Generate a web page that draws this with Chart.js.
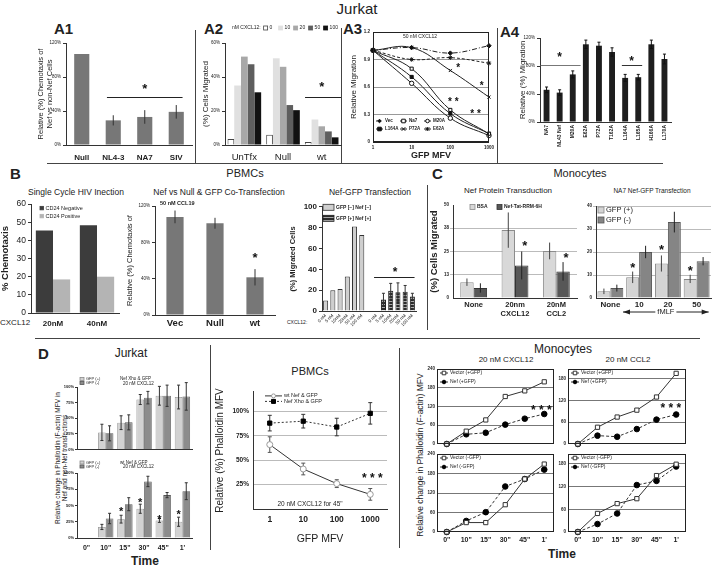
<!DOCTYPE html>
<html>
<head>
<meta charset="utf-8">
<script src="https://cdn.jsdelivr.net/npm/chart.js@4.4.0/dist/chart.umd.min.js"></script>
<style>
body { margin: 0; width: 713px; height: 566px; position: relative; overflow: hidden; background: #fff;
       font-family: "Liberation Sans", Arial, sans-serif; color: #222; }
.t { position: absolute; white-space: nowrap; line-height: 1; }
.c { transform: translateX(-50%); }
.b { font-weight: bold; }
.n { font-family: "Liberation Sans Narrow", "Arial Narrow", "Liberation Sans", sans-serif; }
.r { transform: translate(-50%, -50%) rotate(-90deg); text-align: center; line-height: 1.15; }
.ln { position: absolute; background: #444; }
</style>
</head>
<body>
<div class="t n c" style="left:357px;top:1px;font-size:15px">Jurkat</div>
<div class="t b" style="left:54px;top:21px;font-size:15px">A1</div>
<div class="t b" style="left:204px;top:21px;font-size:15px">A2</div>
<div class="t b" style="left:343px;top:21px;font-size:15px">A3</div>
<div class="t b" style="left:500px;top:24px;font-size:15px">A4</div>

<div class="ln" style="left:47px;top:163px;width:616px;height:1px"></div>
<div class="ln" style="left:195px;top:30px;width:1px;height:133px"></div>
<div class="ln" style="left:341px;top:28px;width:1px;height:135px"></div>
<div class="ln" style="left:497px;top:28px;width:1px;height:135px"></div>
<div class="ln" style="left:427px;top:185px;width:1px;height:145px"></div>
<div class="ln" style="left:35px;top:338px;width:665px;height:1px"></div>
<div class="ln" style="left:210px;top:345px;width:1px;height:205px"></div>
<div class="ln" style="left:399px;top:348px;width:1px;height:200px"></div>

<div class="t b" style="left:10px;top:166px;font-size:15px">B</div>
<div class="t n c" style="left:245px;top:168px;font-size:11px">PBMCs</div>
<div class="t b" style="left:432px;top:166px;font-size:15px">C</div>
<div class="t n c" style="left:580px;top:168px;font-size:11px">Monocytes</div>
<div class="t c" style="left:76px;top:188px;font-size:8.5px">Single Cycle HIV Inection</div>
<div class="t c" style="left:219px;top:188px;font-size:8.5px">Nef vs Null &amp; GFP Co-Transfection</div>
<div class="t c" style="left:370px;top:188px;font-size:8.5px">Nef-GFP Transfection</div>
<div class="t" style="left:0px;top:319px;font-size:8px">CXCL12</div>
<div class="t" style="left:287px;top:320px;font-size:5px">CXCL12:</div>
<div class="t n c" style="left:508px;top:187px;font-size:8px">Nef Protein Transduction</div>
<div class="t n c" style="left:652px;top:188px;font-size:6.5px">NA7 Nef-GFP Transfection</div>

<div class="t b" style="left:38px;top:346px;font-size:15px">D</div>
<div class="t n c" style="left:131px;top:347px;font-size:12px">Jurkat</div>
<div class="t r" style="left:61px;top:458px;font-size:6.5px">Relative change in Phalloidin (F-actin) MFV in<br>Nef and non-Nef transfections</div>
<div class="t b c" style="left:145px;top:555px;font-size:12px">Time</div>
<div class="t n c" style="left:310px;top:366px;font-size:11px">PBMCs</div>
<div class="t n c" style="left:563px;top:343px;font-size:12px">Monocytes</div>
<div class="t n c" style="left:506px;top:356px;font-size:8px">20 nM CXCL12</div>
<div class="t n c" style="left:628px;top:356px;font-size:8px">20 nM CCL2</div>
<div class="t r n" style="left:421px;top:455px;font-size:8.5px">Relative change in Phalloidin (F-actin) MFV</div>
<div class="t b c" style="left:562px;top:548px;font-size:12px">Time</div>

<script>
// ---------- data ----------
// A1 Jurkat chemotaxis
const a1Cats = ['Null', 'NL4-3', 'NA7', 'SIV'];
const a1Vals = [107, 29, 33, 39];
const a1Errs = [0, 6, 8, 8];

// A2 cells migrated per CXCL12 dose
const a2Cats = ['UnTfx', 'Null', 'wt'];
const a2Doses = ['0', '10', '20', '50', '100'];
const a2Dose0 = [3.5, 6, 1.8];
const a2Dose10 = [35, 51, 15];
const a2Dose20 = [52, 46, 11];
const a2Dose50 = [47.5, 23.5, 8];
const a2Dose100 = [31, 20.5, 4.5];

// A3 relative migration vs GFP MFV
const a3X = [1, 10, 100, 1000];
const a3Vec = [1.0, 1.03, 0.97, 1.05];
const a3Na7 = [1.0, 0.80, 0.35, 0.09];
const a3M20A = [1.0, 0.64, 0.26, 0.07];
const a3L164A = [1.0, 0.71, 0.31, 0.09];
const a3P72A = [1.0, 1.03, 0.78, 0.49];
const a3E62A = [1.0, 0.90, 0.92, 0.86];

// A4 Nef mutants
const a4Cats = ['NA7', 'NL43 Nef', 'M20A', 'E62A', 'P72A', 'T162A', 'L164A', 'L165A', 'H166A', 'L170A'];
const a4Vals = [46, 42, 68, 111, 109, 100, 63, 64, 111, 90];
const a4Errs = [4, 4, 5, 6, 5, 6, 5, 4, 6, 7];

// B1 single cycle infection
const b1Cats = ['20nM', '40nM'];
const b1Neg = [45.5, 48.3];
const b1Pos = [18.5, 20];

// B2 co-transfection
const b2Cats = ['Vec', 'Null', 'wt'];
const b2Vals = [108, 101, 41.5];
const b2Errs = [7, 6, 9];

// B3 Nef-GFP transfection
const b3Doses = ['0 nM', '5 nM', '10nM', '20nM', '50 nM', '100 nM'];
const b3Neg = [10, 20, 21, 33, 81, 73];
const b3Pos = [0.5, 11, 19.5, 18, 18.5, 14];
const b3PosErr = [0, 6, 7, 9, 6, 3];

// C1 Nef protein transduction
const c1Cats = [['None'], ['20nm', 'CXCL12'], ['20nM', 'CCL2']];
const c1Bsa = [8.5, 36.5, 25.3];
const c1BsaErr = [2, 9.5, 4.5];
const c1Nef = [5.4, 17.5, 14.3];
const c1NefErr = [2.5, 7.5, 5];

// C2 NA7 Nef-GFP transfection
const c2Cats = ['None', '10', '20', '50'];
const c2Pos = [2.9, 9, 15, 8.3];
const c2PosErr = [1.2, 2.5, 3.5, 1.8];
const c2Neg = [4.3, 20, 33, 16];
const c2NegErr = [1.5, 2.7, 4.5, 1.8];

// D Jurkat phalloidin
const dTimes = ['0"', '10"', '15"', '30"', '45"', "1'"];
const dXhoPos = [null, 27.5, 43, 80, 86, 84];
const dXhoPosErr = [0, 13, 11, 8, 15, 19];
const dXhoNeg = [null, 26, 43.5, 83, 86, 85];
const dXhoNegErr = [0, 12, 12, 10, 17, 22];
const dWtPos = [null, 17, 29, 45, 27, 25];
const dWtPosErr = [0, 4, 6, 7, 3, 7];
const dWtNeg = [null, 30, 52, 87, 66, 72];
const dWtNegErr = [0, 8, 10, 8, 4, 13];

// D PBMCs
const pbX = ['1', '10', '100', '1000'];
const pbWt = [66, 41, 26, 15];
const pbWtErr = [8, 6, 4, 6];
const pbXho = [88, 90, 84, 98];
const pbXhoErr = [8, 7, 9, 11];

// D Monocytes
const mCxVecP = [0, 41, 77, 152, 170, 199];
const mCxNefP = [0, 31, 36, 62, 81, 96];
const mClVecP = [0, 46, 74, 93, 129, 194];
const mClNefP = [0, 23, 20, 41, 67, 81];
const mCxVecN = [0, 29, 29, 84, 163, 209];
const mCxNefN = [0, 34, 61, 140, 163, 192];
const mClVecN = [0, 49, 75, 88, 149, 179];
const mClNefN = [0, 21, 49, 124, 135, 173];

// ---------- setup ----------
const FAM = '"Liberation Sans", Arial, sans-serif';
Chart.defaults.font.family = FAM;
Chart.defaults.color = '#222';
Chart.defaults.animation = false;
Chart.defaults.events = [];
Chart.defaults.plugins.legend.display = false;
Chart.defaults.plugins.tooltip.enabled = false;

const f = (size, b) => ({ size: size, weight: b ? 'bold' : 'normal', family: FAM });

function marker(ctx, st, x, y, r, fill, stroke) {
  ctx.save();
  ctx.fillStyle = fill; ctx.strokeStyle = stroke; ctx.lineWidth = 1;
  ctx.beginPath();
  if (st === 'rect') ctx.rect(x - r, y - r, 2 * r, 2 * r);
  else if (st === 'rectRot') { ctx.moveTo(x, y - r); ctx.lineTo(x + r, y); ctx.lineTo(x, y + r); ctx.lineTo(x - r, y); ctx.closePath(); }
  else if (st === 'crossRot' || st === 'star') {
    ctx.moveTo(x - r, y - r); ctx.lineTo(x + r, y + r); ctx.moveTo(x + r, y - r); ctx.lineTo(x - r, y + r);
    if (st === 'star') { ctx.moveTo(x, y - r); ctx.lineTo(x, y + r); ctx.moveTo(x - r, y); ctx.lineTo(x + r, y); }
  } else ctx.arc(x, y, r, 0, Math.PI * 2);
  if (st !== 'crossRot' && st !== 'star') ctx.fill();
  ctx.stroke();
  ctx.restore();
}

// error bars, taken from the dataset's errs array through the y scale
function drawErrs(ch) {
  const ctx = ch.ctx, ys = ch.scales.y;
  ch.data.datasets.forEach((ds, di) => {
    if (!ds.errs) return;
    ch.getDatasetMeta(di).data.forEach((el, i) => {
      const v = ds.data[i], e = ds.errs[i];
      if (v == null || !e) return;
      const y1 = ys.getPixelForValue(v - e), y2 = ys.getPixelForValue(v + e), c = ds.cap || 0;
      ctx.save();
      ctx.strokeStyle = ds.errColor || '#333'; ctx.lineWidth = 1;
      ctx.beginPath();
      ctx.moveTo(el.x, y1); ctx.lineTo(el.x, y2);
      if (c) { ctx.moveTo(el.x - c, y2); ctx.lineTo(el.x + c, y2); ctx.moveTo(el.x - c, y1); ctx.lineTo(el.x + c, y1); }
      ctx.stroke();
      ctx.restore();
    });
  });
}
const errPlugin = {
  id: 'errs',
  beforeDatasetsDraw(ch) { if (ch.config.type === 'line') drawErrs(ch); },
  afterDatasetsDraw(ch) { if (ch.config.type !== 'line') drawErrs(ch); }
};

// stars, significance lines, small in-plot texts, arrows
const notes = {
  id: 'notes',
  afterDatasetsDraw(ch, args, o) {
    const ctx = ch.ctx, xs = ch.scales.x, ys = ch.scales.y, a = ch.chartArea;
    const px = n => n.ds != null ? ch.getDatasetMeta(n.ds).data[n.i].x : xs.getPixelForValue(n.x);
    ctx.save();
    (o.lines || []).forEach(l => {
      const y = Math.round(ys.getPixelForValue(l.y)) + 0.5;
      ctx.strokeStyle = l.c || '#222'; ctx.lineWidth = l.w || 1;
      ctx.beginPath(); ctx.moveTo(xs.getPixelForValue(l.x1), y); ctx.lineTo(xs.getPixelForValue(l.x2), y); ctx.stroke();
    });
    (o.stars || []).forEach(s => {
      const sz = s.s || 12;
      ctx.fillStyle = '#111'; ctx.font = 'bold ' + sz + 'px ' + FAM;
      ctx.textAlign = 'center'; ctx.textBaseline = 'middle';
      ctx.fillText(s.t || '*', px(s) + (s.dx || 0), ys.getPixelForValue(s.y) + sz * 0.27);
    });
    (o.texts || []).forEach(t => {
      ctx.fillStyle = '#222'; ctx.font = (t.b ? 'bold ' : '') + t.s + 'px ' + FAM;
      ctx.textAlign = t.al || 'left'; ctx.textBaseline = 'middle';
      ctx.fillText(t.t, a.left + t.ax, a.top + t.ay);
    });
    if (o.arrow) {
      const w = o.arrow, y = a.bottom + w.dy, x1 = xs.getPixelForValue(w.x1), x2 = xs.getPixelForValue(w.x2);
      ctx.strokeStyle = '#222'; ctx.fillStyle = '#222'; ctx.lineWidth = 1;
      ctx.beginPath(); ctx.moveTo(x1, y); ctx.lineTo(x2, y); ctx.stroke();
      ctx.beginPath(); ctx.moveTo(x1, y); ctx.lineTo(x1 + 7, y - 2.5); ctx.lineTo(x1 + 7, y + 2.5); ctx.fill();
      ctx.beginPath(); ctx.moveTo(x2, y); ctx.lineTo(x2 - 7, y - 2.5); ctx.lineTo(x2 - 7, y + 2.5); ctx.fill();
      ctx.font = w.s + 'px ' + FAM; ctx.textAlign = 'center'; ctx.textBaseline = 'middle';
      const tw = ctx.measureText(w.t).width, xm = (x1 + x2) / 2;
      ctx.fillStyle = '#fff'; ctx.fillRect(xm - tw / 2 - 2, y - 4, tw + 4, 8);
      ctx.fillStyle = '#222'; ctx.fillText(w.t, xm, y);
    }
    ctx.restore();
  }
};

// small legends placed relative to the plot area
const keys = {
  id: 'keys',
  afterDraw(ch, args, o) {
    if (!o.on) return;
    const ctx = ch.ctx, a = ch.chartArea;
    let x0 = a.left + o.x;
    const y0 = a.top + o.y;
    ctx.save();
    ctx.font = (o.b ? 'bold ' : '') + o.s + 'px ' + FAM;
    ctx.textBaseline = 'middle'; ctx.textAlign = 'left'; ctx.fillStyle = '#222';
    if (o.prefix) { ctx.fillText(o.prefix, x0, y0); x0 += ctx.measureText(o.prefix).width + 3; }
    ch.data.datasets.forEach((ds, k) => {
      const x = x0 + (k % o.cols) * (o.colW || 0);
      const y = y0 + Math.floor(k / o.cols) * (o.rowH || 0);
      let tx;
      if (o.sym === 'line') {
        ctx.strokeStyle = ds.borderColor; ctx.lineWidth = 1; ctx.setLineDash(ds.borderDash || []);
        ctx.beginPath(); ctx.moveTo(x, y); ctx.lineTo(x + o.len, y); ctx.stroke(); ctx.setLineDash([]);
        marker(ctx, ds.pointStyle, x + o.len / 2, y, o.pr || 2, ds.pointBackgroundColor, ds.pointBorderColor);
        tx = x + o.len + 2;
      } else {
        ctx.fillStyle = ds.backgroundColor; ctx.fillRect(x, y - o.bh / 2, o.bw, o.bh);
        ctx.strokeStyle = ds.borderColor || '#444'; ctx.lineWidth = 0.8; ctx.strokeRect(x, y - o.bh / 2, o.bw, o.bh);
        tx = x + o.bw + 2;
      }
      ctx.fillStyle = '#222';
      ctx.fillText(ds.label, tx, y);
    });
    ctx.restore();
  }
};

const frame = {
  id: 'frame',
  afterDatasetsDraw(ch, args, o) {
    if (!o.on) return;
    const a = ch.chartArea, ctx = ch.ctx;
    ctx.save(); ctx.strokeStyle = o.c || '#222'; ctx.lineWidth = 1;
    ctx.strokeRect(Math.round(a.left) + 0.5, Math.round(a.top) + 0.5, Math.round(a.width) - 1, Math.round(a.height) - 1);
    ctx.restore();
  }
};
Chart.register(errPlugin, notes, keys, frame);

// canvas placed so that the plot area lands on rect p (x,y,w,h); yw / xh = axis band sizes
function chart(p, cfg) {
  const pt = p.pt == null ? 6 : p.pt, pr = p.pr == null ? 4 : p.pr;
  const cv = document.createElement('canvas');
  cv.width = p.w + p.yw + pr;
  cv.height = p.h + pt + p.xh;
  cv.style.cssText = 'position:absolute;left:' + (p.x - p.yw) + 'px;top:' + (p.y - pt) + 'px;width:' +
    cv.width + 'px;height:' + cv.height + 'px';
  document.body.appendChild(cv);
  const o = cfg.options;
  o.responsive = false;
  o.layout = { padding: { top: pt, right: pr, left: 0, bottom: 0 } };
  o.scales.x.afterFit = s => { s.height = p.xh; };
  o.scales.y.afterFit = s => { s.width = p.yw; };
  return new Chart(cv, cfg);
}

const axisY = (min, max, step, font, fmt, title) => ({
  min: min, max: max, border: { color: '#333' },
  grid: { drawOnChartArea: false, tickLength: 3, color: '#333' },
  ticks: { stepSize: step, font: font, padding: 2, callback: fmt || (v => v) },
  title: title ? { display: true, text: title.t, font: title.f, padding: 0 } : { display: false }
});
const axisX = (font, pad, extra) => ({ grid: { display: false, drawTicks: false }, border: { color: '#333' },
  ticks: Object.assign({ font: font, padding: pad, autoSkip: false, maxRotation: 0 }, extra || {}) });
const pct = v => v + '%';

// ---------- A1 ----------
chart({ x: 66, y: 43, w: 126, h: 102, yw: 30, xh: 20 }, {
  type: 'bar',
  data: { labels: a1Cats, datasets: [{ data: a1Vals, errs: a1Errs, backgroundColor: '#777', errColor: '#333' }] },
  options: {
    datasets: { bar: { categoryPercentage: 1, barPercentage: 0.48 } },
    scales: {
      x: axisX(f(8, 1), 8),
      y: axisY(0, 120, 40, f(4.5), pct, { t: ['Relative (%) Chemotaxis of', 'Nef vs non-Nef Cells'], f: f(7.5) })
    },
    plugins: { notes: { lines: [{ x1: 0.8, x2: 3.2, y: 57 }], stars: [{ x: 2, y: 70, s: 13 }] } }
  }
});

// ---------- A2 ----------
const a2Fill = ['#ffffff', '#e0e0e0', '#a8a8a8', '#5e5e5e', '#111111'];
chart({ x: 225, y: 43, w: 116, h: 102, yw: 24, xh: 20, pt: 20, pr: 2 }, {
  type: 'bar',
  data: {
    labels: a2Cats,
    datasets: [a2Dose0, a2Dose10, a2Dose20, a2Dose50, a2Dose100].map((d, k) => ({
      label: a2Doses[k], data: d, backgroundColor: a2Fill[k],
      borderColor: k === 0 ? '#444' : a2Fill[k], borderWidth: k === 0 ? 1 : 0
    }))
  },
  options: {
    datasets: { bar: { categoryPercentage: 0.87, barPercentage: 1 } },
    scales: {
      x: axisX(f(9.5), 7),
      y: axisY(0, 60, 20, f(4.5), pct, { t: '(%) Cells Migrated', f: f(8) })
    },
    plugins: {
      keys: { on: 1, x: 7, y: -15, cols: 5, colW: 15, s: 5, bw: 4, bh: 4, prefix: 'nM CXCL12:' },
      notes: { lines: [{ x1: 1.57, x2: 2.5, y: 28 }], stars: [{ x: 2, y: 36, s: 13 }] }
    }
  }
});

// ---------- A3 ----------
const a3Line = (label, vals, st, fill, dash) => ({
  label: label, data: a3X.map((x, i) => ({ x: x, y: vals[i] })),
  borderColor: '#222', borderWidth: 1, borderDash: dash, tension: 0.4, clip: false,
  pointStyle: st, pointRadius: 2.2, pointBackgroundColor: fill, pointBorderColor: '#111'
});
chart({ x: 373, y: 32, w: 118, h: 110, yw: 24, xh: 19, pr: 6 }, {
  type: 'line',
  data: {
    datasets: [
      a3Line('Vec', a3Vec, 'rectRot', '#111', [5, 2, 1, 2]),
      a3Line('Na7', a3Na7, 'rect', '#fff', []),
      a3Line('M20A', a3M20A, 'circle', '#fff', []),
      a3Line('L164A', a3L164A, 'rect', '#111', []),
      a3Line('P72A', a3P72A, 'crossRot', '#111', []),
      a3Line('E62A', a3E62A, 'star', '#111', [3, 2])
    ]
  },
  options: {
    scales: {
      x: {
        type: 'logarithmic', min: 1, max: 1000, grid: { display: false, drawTicks: false }, border: { color: '#222' },
        afterBuildTicks: s => { s.ticks = a3X.map(v => ({ value: v })); },
        ticks: { font: f(4.5, 1), padding: 3, callback: v => String(v), maxRotation: 0 },
        title: { display: true, text: 'GFP MFV', font: f(9, 1), padding: 0 }
      },
      y: {
        min: 0, max: 1.2, border: { color: '#222' },
        grid: { color: '#999', drawTicks: false },
        ticks: { stepSize: 0.3, font: f(4.5, 1), padding: 3, callback: v => (v === 0 ? '0' : v.toFixed(1)) },
        title: { display: true, text: 'Relative Migration', font: f(8), padding: 0 }
      }
    },
    plugins: {
      frame: { on: 1 },
      keys: { on: 1, sym: 'line', x: 3, y: 89, cols: 3, colW: 24, rowH: 8, s: 4.5, len: 7, pr: 1.8, b: 1 },
      notes: {
        stars: [{ x: 160, y: 0.83, s: 10 }, { x: 650, y: 0.64, s: 10 }, { x: 120, y: 0.46, t: '* *', s: 10 }, { x: 450, y: 0.33, t: '* *', s: 10 }],
        texts: [{ t: '50 nM CXCL12', ax: 47, ay: 5, s: 5, al: 'center' }]
      }
    }
  }
});

// ---------- A4 ----------
chart({ x: 540, y: 38, w: 131, h: 84, yw: 22, xh: 43, pr: 3 }, {
  type: 'bar',
  data: { labels: a4Cats, datasets: [{ data: a4Vals, errs: a4Errs, cap: 1.5, backgroundColor: '#1e1e1e', errColor: '#111' }] },
  options: {
    datasets: { bar: { categoryPercentage: 1, barPercentage: 0.45 } },
    scales: {
      x: axisX(f(5, 1), 3, { minRotation: 90, maxRotation: 90 }),
      y: axisY(0, 120, 40, f(4.5), pct, { t: 'Relative (%) Migration', f: f(8) })
    },
    plugins: {
      notes: {
        lines: [{ x1: -0.45, x2: 2.6, y: 82, c: '#777' }, { x1: 5.75, x2: 7.3, y: 81, c: '#333' }],
        stars: [{ x: 1, y: 96, s: 12 }, { x: 6.5, y: 91, s: 12 }]
      }
    }
  }
});

// ---------- B1 ----------
chart({ x: 31, y: 203, w: 88, h: 110, yw: 31, xh: 17 }, {
  type: 'bar',
  data: {
    labels: b1Cats,
    datasets: [
      { label: 'CD24 Negative', data: b1Neg, backgroundColor: '#3c3c3c', borderColor: '#3c3c3c' },
      { label: 'CD24 Positive', data: b1Pos, backgroundColor: '#b4b4b4', borderColor: '#b4b4b4' }
    ]
  },
  options: {
    datasets: { bar: { categoryPercentage: 0.78, barPercentage: 1 } },
    scales: {
      x: axisX(f(8, 1), 6),
      y: axisY(0, 60, 10, f(8.5), null, { t: '% Chemotaxis', f: f(9.5, 1) })
    },
    plugins: { keys: { on: 1, x: 9, y: 4, cols: 1, rowH: 8, s: 5.5, bw: 3.5, bh: 3.5 } }
  }
});

// ---------- B2 ----------
chart({ x: 155, y: 206, w: 120, h: 109, yw: 30, xh: 17 }, {
  type: 'bar',
  data: { labels: b2Cats, datasets: [{ data: b2Vals, errs: b2Errs, backgroundColor: '#777', errColor: '#333' }] },
  options: {
    datasets: { bar: { categoryPercentage: 1, barPercentage: 0.43 } },
    scales: {
      x: axisX(f(9.5, 1), 3),
      y: axisY(0, 120, 40, f(4.5), pct, { t: 'Relative (%) Chemotaxis of', f: f(7.5) })
    },
    plugins: {
      notes: {
        stars: [{ x: 2, y: 66, s: 13 }],
        texts: [{ t: '50 nM CCL19', ax: 5, ay: -3, s: 5.5, b: 1 }]
      }
    }
  }
});

// ---------- B3 ----------
const pc = document.createElement('canvas');
pc.width = 4; pc.height = 3;
const pcx = pc.getContext('2d');
pcx.fillStyle = '#2a2a2a'; pcx.fillRect(0, 0, 4, 3);
pcx.fillStyle = '#a8a8a8'; pcx.fillRect(0, 2, 4, 1);
const stripes = pcx.createPattern(pc, 'repeat');
const b3Gap = b3Doses.map(() => null);
chart({ x: 322, y: 206, w: 94, h: 105, yw: 34, xh: 20, pr: 4 }, {
  type: 'bar',
  data: {
    labels: b3Doses.concat([''], b3Doses),
    datasets: [
      { label: 'GFP [\u2212] Nef [\u2212]', data: b3Neg.concat([null], b3Gap), backgroundColor: '#cfcfcf',
        borderColor: '#333', borderWidth: 1, grouped: false },
      { label: 'GFP [+] Nef [+]', data: b3Gap.concat([null], b3Pos), errs: b3Gap.concat([null], b3PosErr), cap: 1.5,
        backgroundColor: stripes, borderColor: '#222', borderWidth: 1, grouped: false }
    ]
  },
  options: {
    datasets: { bar: { categoryPercentage: 1, barPercentage: 0.7 } },
    scales: {
      x: axisX(f(4.5), 2, { minRotation: 45, maxRotation: 45 }),
      y: axisY(0, 100, 20, f(8, 1), null, { t: '(%) Migrated Cells', f: f(7.5, 1) })
    },
    plugins: {
      keys: { on: 1, x: 1, y: 0.5, cols: 1, rowH: 11, s: 5, b: 1, bw: 11, bh: 6 },
      notes: { lines: [{ x1: 6.7, x2: 12.3, y: 33 }], stars: [{ x: 9.6, y: 40, s: 12 }] }
    }
  }
});

// ---------- C1 ----------
chart({ x: 453, y: 205, w: 124, h: 93, yw: 24, xh: 28 }, {
  type: 'bar',
  data: {
    labels: c1Cats,
    datasets: [
      { label: 'BSA', data: c1Bsa, errs: c1BsaErr, backgroundColor: '#d8d8d8', borderColor: '#8c8c8c', borderWidth: 1, errColor: '#444' },
      { label: 'Nef-Tat-RRM-6H', data: c1Nef, errs: c1NefErr, backgroundColor: '#575757', borderColor: '#333', borderWidth: 1, errColor: '#222' }
    ]
  },
  options: {
    datasets: { bar: { categoryPercentage: 0.65, barPercentage: 1 } },
    scales: {
      x: axisX(f(7.5, 1), 2),
      y: {
        min: 0, max: 50, border: { color: '#333' },
        afterBuildTicks: s => { s.ticks = [0, 12.5, 25, 37.5, 50].map(v => ({ value: v })); },
        grid: { color: c => (c.tick && c.tick.value > 0 && c.tick.value < 50 ? '#bbb' : 'rgba(0,0,0,0)'), tickLength: 3 },
        ticks: { font: f(4.5, 1), padding: 1, callback: v => Math.round(v) },
        title: { display: true, text: '(%) Cells Migrated', font: f(9.5, 1), padding: 0 }
      }
    },
    plugins: {
      keys: { on: 1, x: 17, y: 2, cols: 2, colW: 27, s: 5, b: 1, bw: 5, bh: 5 },
      notes: { stars: [{ ds: 1, i: 1, y: 29.5, s: 13, dx: 3 }, { ds: 1, i: 2, y: 23, s: 13, dx: 3 }] }
    }
  }
});

// ---------- C2 ----------
chart({ x: 596, y: 206, w: 115, h: 92, yw: 14, xh: 28, pr: 2 }, {
  type: 'bar',
  data: {
    labels: c2Cats,
    datasets: [
      { label: 'GFP (+)', data: c2Pos, errs: c2PosErr, backgroundColor: '#d4d4d4', borderColor: '#888', borderWidth: 1, errColor: '#444' },
      { label: 'GFP (-)', data: c2Neg, errs: c2NegErr, backgroundColor: '#858585', borderColor: '#555', borderWidth: 1, errColor: '#222' }
    ]
  },
  options: {
    datasets: { bar: { categoryPercentage: 0.9, barPercentage: 1 } },
    scales: {
      x: axisX(f(8, 1), 2),
      y: {
        min: 0, max: 40, border: { color: '#333' },
        grid: { color: c => (c.tick && c.tick.value > 0 ? '#bbb' : 'rgba(0,0,0,0)'), tickLength: 3 },
        ticks: { stepSize: 10, font: f(4.5, 1), padding: 1 }
      }
    },
    plugins: {
      keys: { on: 1, x: 2, y: 4, cols: 1, rowH: 10, s: 7.5, bw: 6, bh: 6 },
      notes: {
        stars: [{ ds: 0, i: 1, y: 14.3, s: 13 }, { ds: 0, i: 2, y: 22.3, s: 13 }, { ds: 0, i: 3, y: 12.9, s: 13 }],
        arrow: { x1: 0.44, x2: 3.42, dy: 14, t: 'fMLF', s: 7.5 }
      }
    }
  }
});

// ---------- D Jurkat ----------
function dj(p, pos, neg, posErr, negErr, note1, note2, ky, showX, stars) {
  return chart(p, {
    type: 'bar',
    data: {
      labels: dTimes,
      datasets: [
        { label: 'GFP (+)', data: pos, errs: posErr, cap: 1.5, backgroundColor: '#d2d2d2', borderColor: '#8a8a8a', borderWidth: 0.8 },
        { label: 'GFP (-)', data: neg, errs: negErr, cap: 1.5, backgroundColor: '#8c8c8c', borderColor: '#555', borderWidth: 0.8 }
      ]
    },
    options: {
      datasets: { bar: { categoryPercentage: 0.8, barPercentage: 1 } },
      scales: {
        x: axisX(f(7, 1), 6, { display: showX }),
        y: {
          min: 0, max: 100, border: { color: '#333' },
          grid: { drawOnChartArea: false, tickLength: 2, color: '#333' },
          ticks: { stepSize: 25, font: f(4, 1), padding: 1, callback: pct }
        }
      },
      plugins: {
        keys: { on: 1, x: 3, y: ky, cols: 1, rowH: 4, s: 4, bw: 4, bh: 3 },
        notes: { stars: stars, texts: [{ t: note1, ax: 43, ay: ky, s: 4.5 }, { t: note2, ax: 46, ay: ky + 4.5, s: 4.5 }] }
      }
    }
  });
}
dj({ x: 77, y: 387, w: 115, h: 64, yw: 14, xh: 2, pt: 13 }, dXhoPos, dXhoNeg, dXhoPosErr, dXhoNegErr,
  'Nef Xho & GFP', '20 nM CXCL12', -8, false, []);
dj({ x: 77, y: 473, w: 115, h: 65, yw: 14, xh: 16, pt: 14 }, dWtPos, dWtNeg, dWtPosErr, dWtNegErr,
  'wt Nef & GFP', '20 nM CXCL12', -10.5, true,
  [{ ds: 0, i: 2, y: 44, s: 11 }, { ds: 0, i: 3, y: 59, s: 11 }, { ds: 0, i: 4, y: 33, s: 11 }, { ds: 0, i: 5, y: 40, s: 11 }]);

// ---------- D PBMCs ----------
chart({ x: 253, y: 390, w: 137, h: 119, yw: 39, xh: 36, pr: 2 }, {
  type: 'line',
  data: {
    labels: pbX,
    datasets: [
      { label: 'wt Nef & GFP', data: pbWt, errs: pbWtErr, cap: 2, errColor: '#555', borderColor: '#333', borderWidth: 1,
        pointStyle: 'circle', pointRadius: 3, pointBackgroundColor: '#fff', pointBorderColor: '#999', clip: false },
      { label: 'Nef Xho & GFP', data: pbXho, errs: pbXhoErr, cap: 2, errColor: '#333', borderColor: '#333', borderWidth: 1,
        borderDash: [2, 2], pointStyle: 'rect', pointRadius: 3, pointBackgroundColor: '#000', pointBorderColor: '#000', clip: false }
    ]
  },
  options: {
    scales: {
      x: {
        offset: true, grid: { display: false, drawTicks: false }, border: { color: '#333' },
        ticks: { font: f(8.5, 1), padding: 6 },
        title: { display: true, text: 'GFP MFV', font: f(10.5), padding: 0 }
      },
      y: {
        min: 0, max: 120, border: { color: '#333' },
        afterBuildTicks: s => { s.ticks = [25, 50, 75, 100].map(v => ({ value: v })); },
        grid: { color: '#bbb', drawTicks: false },
        ticks: { font: f(6.5, 1), padding: 4, callback: pct },
        title: { display: true, text: 'Relative (%) Phalloidin MFV', font: f(10), padding: 0 }
      }
    },
    plugins: {
      keys: { on: 1, sym: 'line', x: 12, y: 4, cols: 1, rowH: 5.5, s: 5.5, len: 17, pr: 2 },
      notes: {
        stars: [{ x: 3.06, y: 34, t: '* * *', s: 12 }],
        texts: [{ t: '20 nM CXCL12 for 45"', ax: 57, ay: 112, s: 6.5, al: 'center' }]
      }
    }
  }
});

// ---------- D Monocytes ----------
function mono(p, vec, nef, tag, yMax, yTicks, showX, star) {
  return chart(p, {
    type: 'line',
    data: {
      labels: dTimes,
      datasets: [
        { label: 'Vector (' + tag + ')', data: vec, borderColor: '#333', borderWidth: 1, clip: false,
          pointStyle: 'rect', pointRadius: 3, pointBackgroundColor: '#fff', pointBorderColor: '#333' },
        { label: 'Nef (' + tag + ')', data: nef, borderColor: '#333', borderWidth: 1, borderDash: [3, 2], clip: false,
          pointStyle: 'circle', pointRadius: 2.8, pointBackgroundColor: '#000', pointBorderColor: '#000' }
      ]
    },
    options: {
      scales: {
        x: { offset: true, grid: { display: false, drawTicks: false }, border: { display: false },
             ticks: { display: showX, font: f(7, 1), padding: 4 } },
        y: {
          min: 0, max: yMax, border: { display: false },
          afterBuildTicks: s => { s.ticks = yTicks.map(v => ({ value: v })); },
          grid: { color: c => (c.tick && c.tick.value > 0 && c.tick.value < yMax ? '#777' : 'rgba(0,0,0,0)'), drawTicks: false },
          ticks: { font: f(4.5, 1), padding: 2 }
        }
      },
      plugins: {
        frame: { on: 1 },
        keys: { on: 1, sym: 'line', x: 3, y: 4, cols: 1, rowH: 9, s: 5, len: 8, pr: 1.8 },
        notes: { stars: star ? [star] : [] }
      }
    }
  });
}
mono({ x: 437, y: 368, w: 118, h: 79, yw: 12, xh: 2, pt: 4 }, mCxVecP, mCxNefP, '+GFP', 240, [0, 60, 120, 180, 240], false,
  { x: 4.85, y: 118, t: '* * *', s: 12 });
mono({ x: 568, y: 368, w: 119, h: 79, yw: 12, xh: 2, pt: 4 }, mClVecP, mClNefP, '+GFP', 206, [0, 60, 120, 180], false,
  { x: 4.73, y: 105, t: '* * *', s: 12 });
mono({ x: 437, y: 453, w: 118, h: 79, yw: 12, xh: 14, pt: 4 }, mCxVecN, mCxNefN, '-GFP', 240, [0, 60, 120, 180, 240], true, null);
mono({ x: 568, y: 453, w: 119, h: 79, yw: 12, xh: 14, pt: 4 }, mClVecN, mClNefN, '-GFP', 206, [0, 60, 120, 180], true, null);
</script>
</body>
</html>
